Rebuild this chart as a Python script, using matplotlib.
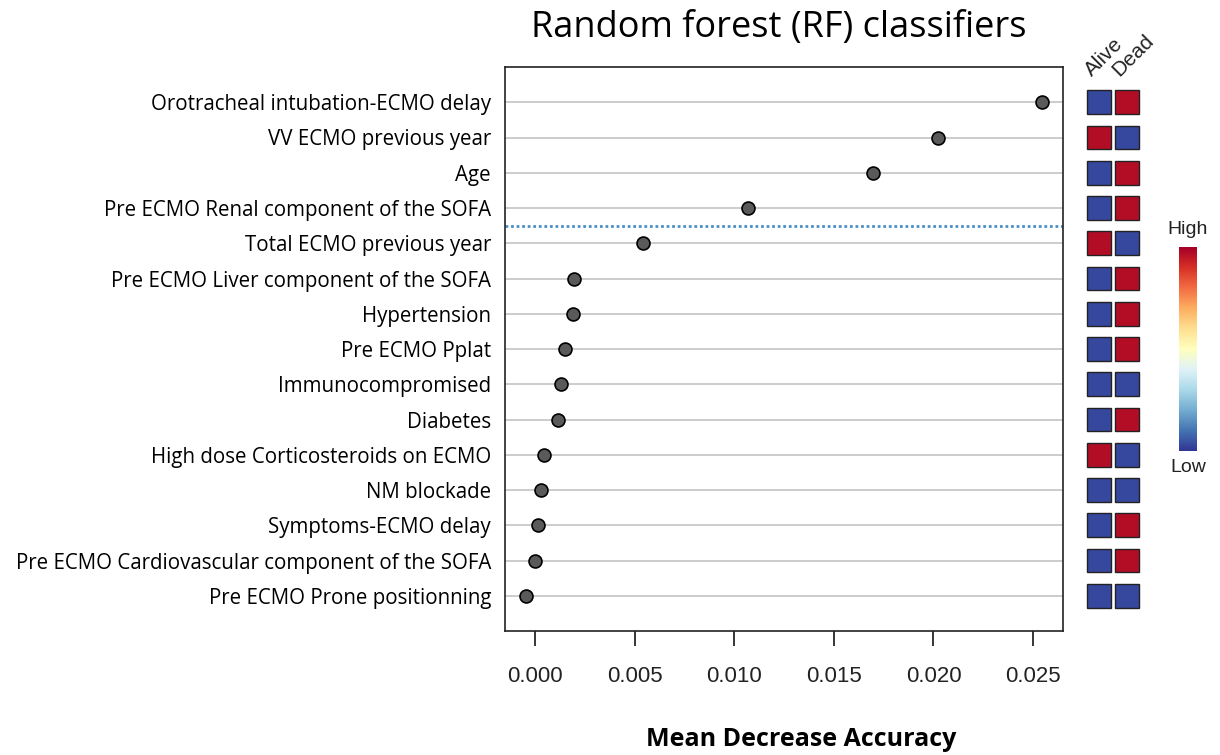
import numpy as np
import matplotlib
matplotlib.use("Agg")
import matplotlib.pyplot as plt
from matplotlib.patches import Rectangle
from matplotlib import font_manager

# Variables ranked by importance (top to bottom)
features = [
    "Orotracheal intubation-ECMO delay",
    "VV ECMO previous year",
    "Age",
    "Pre ECMO Renal component of the SOFA",
    "Total ECMO previous year",
    "Pre ECMO Liver component of the SOFA",
    "Hypertension",
    "Pre ECMO Pplat",
    "Immunocompromised",
    "Diabetes",
    "High dose Corticosteroids on ECMO",
    "NM blockade",
    "Symptoms-ECMO delay",
    "Pre ECMO Cardiovascular component of the SOFA",
    "Pre ECMO Prone positionning",
]
mean_decrease_accuracy = [
    0.02546, 0.02022, 0.01699, 0.01067, 0.00541,
    0.00197, 0.00192, 0.00153, 0.00133, 0.00118,
    0.00044, 0.00032, 0.00017, 0.00000, -0.00046,
]
# Relative level of each variable in the two outcome groups (1 = high, 0 = low)
alive_level = [0, 1, 0, 0, 1, 0, 0, 0, 0, 0, 1, 0, 0, 0, 0]
dead_level = [1, 0, 1, 1, 0, 1, 1, 1, 0, 1, 0, 0, 1, 1, 0]
group_labels = ["Alive", "Dead"]
x_ticks = [0.000, 0.005, 0.010, 0.015, 0.020, 0.025]
cutoff_rank = 4  # dotted separator below the top-4 variables

W, H = 1220, 755
fig = plt.figure(figsize=(W / 100, H / 100), dpi=100)

def fx(px):
    return px / W

def fy(py):
    return 1 - py / H

label_font = "Open Sans"
names = {f.name for f in font_manager.fontManager.ttflist}
if "Liberation Sans Narrow" in names:
    tick_font, tick_size = "Liberation Sans Narrow", 24
else:
    tick_font, tick_size = "Liberation Sans", 16

cmap = plt.get_cmap("RdYlBu_r")

# ---- main dot chart ----
left, right, top, bottom = 505, 1063, 67, 631
ax = fig.add_axes([fx(left), fy(bottom), fx(right - left), (bottom - top) / H])
n = len(features)
ypos = np.arange(1, n + 1)
for y in ypos:
    ax.axhline(y, color="#c8c8c8", lw=1.3, zorder=1)
ax.axhline(cutoff_rank + 0.5, color="#4a90c8", lw=2.0, ls=(0, (1, 1)), zorder=2)
ax.plot(mean_decrease_accuracy, ypos, ls="none", marker="o", ms=9.3,
        mfc="#5a5a5a", mec="black", mew=1.2, zorder=3)
ax.set_ylim(n + 1, 0)
ax.set_xlim(-0.0015, 0.0265)
ax.set_yticks(ypos)
ax.set_yticklabels(features, fontfamily=label_font, fontsize=14.8)
ax.tick_params(axis="y", length=0, pad=10)
ax.set_xticks(x_ticks)
ax.set_xticklabels([f"{t:.3f}" for t in x_ticks], fontfamily=tick_font,
                   fontsize=tick_size, color="#222222")
ax.tick_params(axis="x", direction="out", length=11, width=1.1, pad=14)
for s in ax.spines.values():
    s.set_linewidth(1.2)
    s.set_color("#222222")

fig.text(fx(801), fy(740), "Mean Decrease Accuracy", ha="center", va="center",
         fontfamily=label_font, fontweight="bold", fontsize=18)
fig.text(fx(779), fy(28), "Random forest (RF) classifiers", ha="center",
         va="center", fontfamily=label_font, fontsize=26)

# ---- group level squares ----
hx0, hx1 = 1085, 1141
hax = fig.add_axes([fx(hx0), fy(bottom), fx(hx1 - hx0), (bottom - top) / H])
hax.set_xlim(-0.5, 1.5)
hax.set_ylim(n + 1, 0)
hax.axis("off")
sq_w, sq_h = 0.86, 0.68
for col, levels in enumerate([alive_level, dead_level]):
    for y, lv in zip(ypos, levels):
        hax.add_patch(Rectangle((col - sq_w / 2, y - sq_h / 2), sq_w, sq_h,
                                facecolor=cmap(0.97 if lv else 0.03),
                                edgecolor="#222222", lw=1.0))

for i, name in enumerate(group_labels):
    fig.text(fx(1092 + 27 * i), fy(77), name, rotation=45, rotation_mode="anchor",
             ha="left", va="baseline", fontfamily="Liberation Sans",
             fontsize=15, color="#222222")

# ---- colour key ----
cax = fig.add_axes([fx(1179), fy(451), fx(18), (451 - 247) / H])
grad = np.linspace(1, 0, 256).reshape(-1, 1)
cax.imshow(grad, aspect="auto", cmap=cmap, extent=(0, 1, 0, 1))
cax.set_xticks([])
cax.set_yticks([])
for s in cax.spines.values():
    s.set_visible(False)
fig.text(fx(1188), fy(230), "High", ha="center", va="center",
         fontfamily="Liberation Sans", fontsize=14, color="#222222")
fig.text(fx(1188), fy(468), "Low", ha="center", va="center",
         fontfamily="Liberation Sans", fontsize=14, color="#222222")

fig.savefig("out.png", dpi=100, facecolor="white")
